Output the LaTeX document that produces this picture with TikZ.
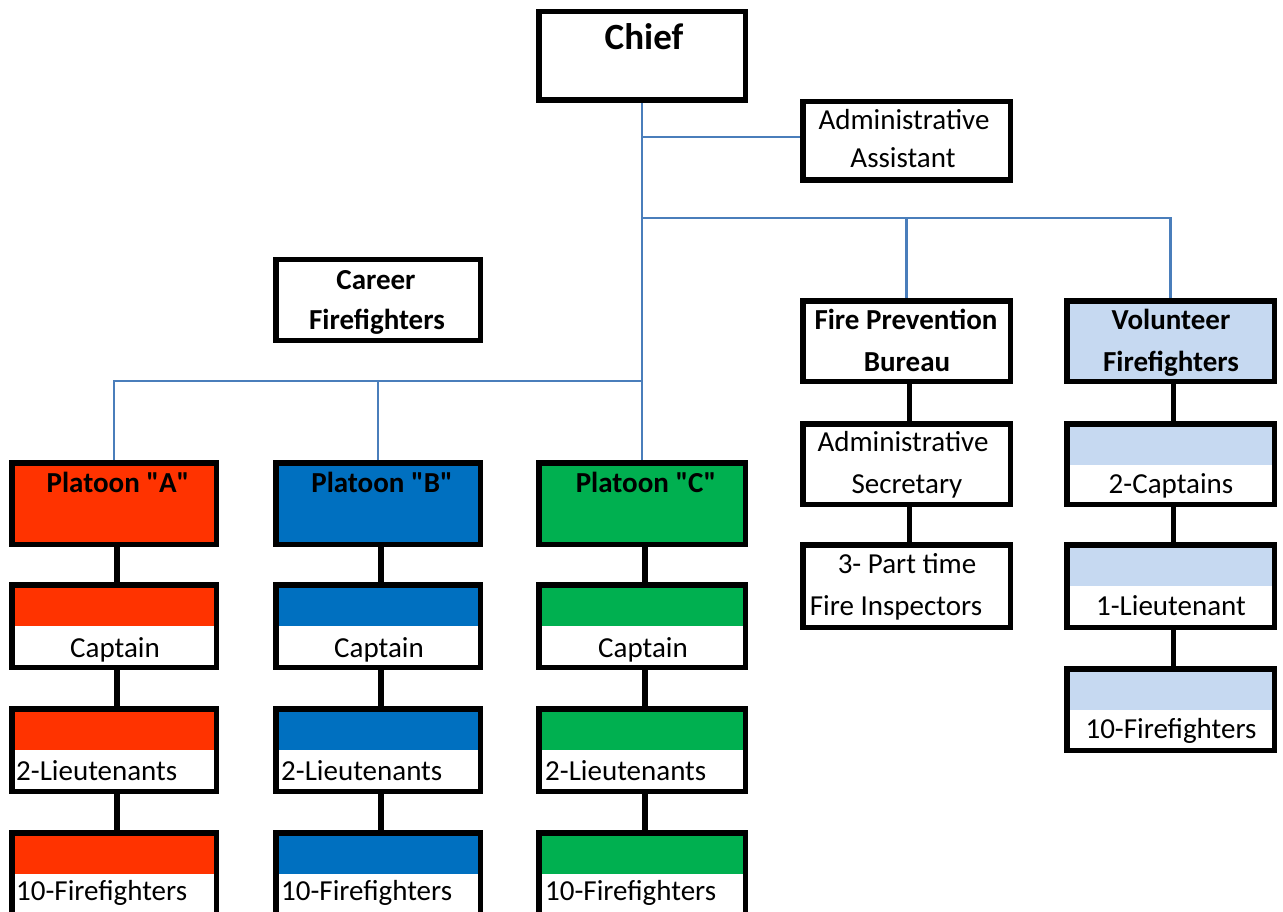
\documentclass[tikz,border=0pt]{standalone}
\usepackage{fontspec}
\setmainfont{Carlito}[Ligatures=TeXOff]
\usetikzlibrary{calc}
\definecolor{pred}{HTML}{FF3300}
\definecolor{pblue}{HTML}{0070C0}
\definecolor{pgreen}{HTML}{00B050}
\definecolor{vblue}{HTML}{C6D9F1}
\definecolor{lineblue}{HTML}{4A7EBB}
\tikzset{
  box/.style={draw=black, line width=5.5pt, rectangle, inner sep=0pt},
  txt/.style={anchor=base, inner sep=0pt, font=\fontsize{29}{35}\selectfont},
  btxt/.style={anchor=base, inner sep=0pt, font=\fontsize{29}{35}\selectfont\bfseries},
  conn/.style={line width=5.5pt, black},
  bline/.style={line width=2.2pt, lineblue},
}
% name x1 y1 x2 y2 fill
\newcommand{\obox}[6]{%
  \node[box, fill=#6, minimum width={(#4-#2-5.5)*1pt}, minimum height={(#5-#3-5.5)*1pt}] (#1) at ({(#2+#4)/2},{(#3+#5)/2}) {};}
% name x1 y1 x2 y2 bandcolour
\newcommand{\bbox}[6]{%
  \node[box, fill=white, minimum width={(#4-#2-5.5)*1pt}, minimum height={(#5-#3-5.5)*1pt},
    path picture={\fill[#6] (path picture bounding box.north west) rectangle ([yshift=-41pt]path picture bounding box.north east);}]
    (#1) at ({(#2+#4)/2},{(#3+#5)/2}) {};}
\begin{document}
\begin{tikzpicture}[x=1pt,y=-1pt]
\useasboundingbox (0,0) rectangle (1283,912);
\clip (0,0) rectangle (1283,912);
\fill[white] (0,0) rectangle (1283,912);

% top boxes
\obox{chief}{536}{9}{748}{103}{white}
\obox{adminA}{800}{99}{1013}{183}{white}
\obox{career}{273}{257}{483}{343}{white}
\obox{fpb}{800}{298}{1013}{384}{white}
\obox{vol}{1064}{298}{1277}{384}{vblue}
\obox{adminS}{800}{421}{1013}{507}{white}
\obox{pt}{800}{542}{1013}{630}{white}
\bbox{vcap}{1064}{421}{1277}{507}{vblue}
\bbox{vlt}{1064}{542}{1277}{630}{vblue}
\bbox{vff}{1064}{666}{1277}{753}{vblue}

% platoon columns
\obox{platA}{9}{460}{219}{547}{pred}
\obox{platB}{273}{460}{483}{547}{pblue}
\obox{platC}{536}{460}{748}{547}{pgreen}
\bbox{capA}{9}{582}{219}{670}{pred}
\bbox{capB}{273}{582}{483}{670}{pblue}
\bbox{capC}{536}{582}{748}{670}{pgreen}
\bbox{ltA}{9}{706}{219}{794}{pred}
\bbox{ltB}{273}{706}{483}{794}{pblue}
\bbox{ltC}{536}{706}{748}{794}{pgreen}
\bbox{ffA}{9}{830}{219}{920}{pred}
\bbox{ffB}{273}{830}{483}{920}{pblue}
\bbox{ffC}{536}{830}{748}{920}{pgreen}

% texts
\node[btxt, font=\fontsize{37}{40}\selectfont\bfseries] (tChief) at (644,50) {Chief};
\node[txt] (tAA1) at (904,130) {Administrative};
\node[txt] (tAA2) at (903,168) {Assistant};
\node[btxt] (tCar1) at (376,290) {Career};
\node[btxt] (tCar2) at (377,329) {Firefighters};
\node[btxt] (tFP1) at (906,329) {Fire Prevention};
\node[btxt] (tFP2) at (907,371) {Bureau};
\node[btxt] (tV1) at (1171,329) {Volunteer};
\node[btxt] (tV2) at (1171,371) {Firefighters};
\node[txt] (tAS1) at (903,451) {Administrative};
\node[txt] (tAS2) at (907,493) {Secretary};
\node[txt] (tPT1) at (907,573) {3- Part time};
\node[txt] (tPT2) at (896,615) {Fire Inspectors};
\node[txt] (tVC) at (1171,493) {2-Captains};
\node[txt] (tVL) at (1171,615) {1-Lieutenant};
\node[txt] (tVF) at (1171,738) {10-Firefighters};

\node[btxt] (tPA) at (118,492) {Platoon "A"};
\node[btxt] (tPB) at (382,492) {Platoon "B"};
\node[btxt] (tPC) at (646,492) {Platoon "C"};
\node[txt] (tCA) at (115,657) {Captain};
\node[txt] (tCB) at (379,657) {Captain};
\node[txt] (tCC) at (643,657) {Captain};
\node[txt, anchor=base west] (tLA) at (16,780) {2-Lieutenants};
\node[txt, anchor=base west] (tLB) at (281,780) {2-Lieutenants};
\node[txt, anchor=base west] (tLC) at (545,780) {2-Lieutenants};
\node[txt, anchor=base west] (tFA) at (16,900) {10-Firefighters};
\node[txt, anchor=base west] (tFB) at (281,900) {10-Firefighters};
\node[txt, anchor=base west] (tFC) at (545,900) {10-Firefighters};

% black connectors
\foreach \a/\b in {platA/capA, capA/ltA, ltA/ffA, platB/capB, capB/ltB, ltB/ffB,
                   platC/capC, capC/ltC, ltC/ffC, fpb/adminS, adminS/pt,
                   vol/vcap, vcap/vlt, vlt/vff}
  \draw[conn] ([xshift=3pt]\a.south) -- ([xshift=3pt]\b.north);

% blue lines
\coordinate (j1) at (643,137);
\coordinate (j2) at (643,218);
\coordinate (j3) at (642,381);
\draw[bline] (chief.south) -- (platC.north);
\draw[bline] (j1) -- (adminA.west |- j1);
\draw[bline] (j2) -- (vol.north |- j2) -- (vol.north);
\draw[bline] (fpb.north |- j2) -- (fpb.north);
\draw[bline] (j3) -- (platA.north |- j3) -- (platA.north);
\draw[bline] (platB.north |- j3) -- (platB.north);
\end{tikzpicture}
\end{document}
